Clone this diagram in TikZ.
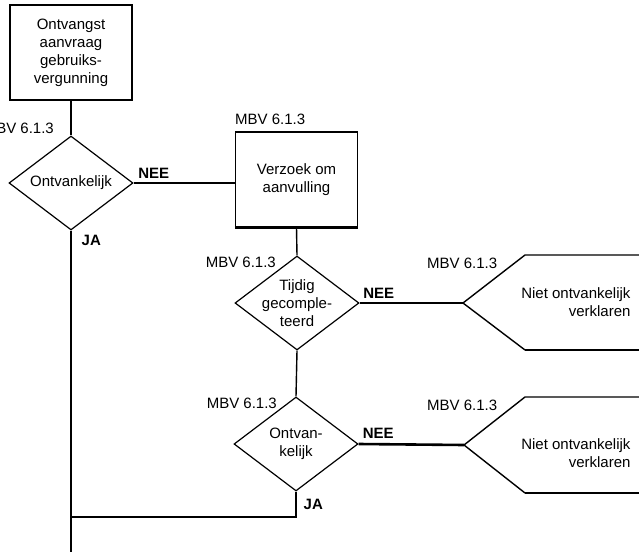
\documentclass[tikz,border=0pt]{standalone}
\usepackage{fontspec}
\setmainfont{Liberation Sans}
\usetikzlibrary{shapes.geometric,calc}
\tikzset{
  stap/.style       = {draw, line width=1.5pt, minimum width=122pt, minimum height=95pt,
                       inner sep=2pt, align=center},
  keuze/.style      = {draw, diamond, line width=1.2pt, minimum width=124pt,
                       minimum height=94pt, inner sep=0pt},
  lijn/.style       = {line width=1.4pt},
  zwaar/.style      = {line width=2.6pt},
  every node/.style = {font=\fontsize{15}{18}\selectfont},
  lbl/.style        = {inner sep=1pt, font=\fontsize{15}{18}\selectfont\bfseries},
  ref/.style        = {inner sep=1pt},
}
\begin{document}
\begin{tikzpicture}[x=1pt,y=1pt]
  \useasboundingbox (0,0) rectangle (639,-556);
  \clip (0,0) rectangle (639,-556);
  % left column: start and first check
  \node[stap] (aanvraag) at (71,-52.5) {Ontvangst\\aanvraag\\gebruiks-\\vergunning};
  \node[keuze] (ontv1) at (71,-183) {};
  \node (ontv1-t) at (ontv1) {Ontvankelijk};
  \node[ref, anchor=east] (ontv1-r) at (55,-128) {MBV 6.1.3};
  \draw[lijn] (aanvraag.south) -- (ontv1.north);
  % request for completion
  \node[stap] (verzoek) at (296.5,-179.5) {Verzoek om\\aanvulling};
  \draw[zwaar] (verzoek.south west) -- (verzoek.south east);
  \node[ref, anchor=west] (verzoek-r) at (234,-119) {MBV 6.1.3};
  \draw[lijn] (ontv1.east) -- (ontv1.east -| verzoek.west) node[pos=0, anchor=south west, lbl, xshift=3pt, yshift=3pt] {NEE};
  % completed in time?
  \node[keuze] (tijdig) at (297,-303) {};
  \node[align=center] (tijdig-t) at (tijdig) {Tijdig\\gecomple-\\teerd};
  \node[ref, anchor=east] (tijdig-r) at (277,-262) {MBV 6.1.3};
  \draw[lijn] (verzoek.south) -- (tijdig.north);
  % first rejection (runs off the right edge)
  \coordinate (niet1) at (463,-303);
  \coordinate (niet1-o) at ($(niet1)+(62,-47)$);
  \draw[lijn] (niet1) -- ++(62,48) -- ++(120,0);
  \draw[lijn] (niet1) -- (niet1-o);
  \draw[zwaar] (niet1-o) -- ++(120,0);
  \node[ref, anchor=west] (niet1-r) at (426,-263) {MBV 6.1.3};
  \node[align=right, anchor=east] (niet1-t) at (634,-302) {Niet ontvankelijk\\verklaren};
  \draw[lijn] (tijdig.east) -- (niet1) node[pos=0, anchor=south west, lbl, xshift=2pt, yshift=3pt] {NEE};
  % second check
  \node[keuze] (ontv2) at (296,-444) {};
  \node[align=center] (ontv2-t) at (ontv2) {Ontvan-\\kelijk};
  \node[ref, anchor=east] (ontv2-r) at (278,-403) {MBV 6.1.3};
  \draw[lijn] (tijdig.south) -- (ontv2.north);
  % second rejection
  \coordinate (niet2) at (464,-445);
  \coordinate (niet2-o) at ($(niet2)+(61,-48)$);
  \draw[lijn] (niet2) -- ++(61,48) -- ++(120,0);
  \draw[lijn] (niet2) -- (niet2-o);
  \draw[zwaar] (niet2-o) -- ++(120,0);
  \node[ref, anchor=west] (niet2-r) at (426,-405) {MBV 6.1.3};
  \node[align=right, anchor=east] (niet2-t) at (634,-453) {Niet ontvankelijk\\verklaren};
  \draw[zwaar] (ontv2.east) -- (niet2) node[pos=0, anchor=south west, lbl, xshift=2pt, yshift=3pt] {NEE};
  % both JA branches join the main line
  \coordinate (samen) at (71,-517);
  \coordinate (einde) at (71,-552);
  \draw[lijn] (ontv1.south) -- (einde) node[pos=0, anchor=north west, lbl, xshift=9pt, yshift=-3pt] {JA};
  \draw[lijn] (ontv2.south) |- (samen) node[pos=0, anchor=north west, lbl, xshift=6pt, yshift=-6pt] {JA};
\end{tikzpicture}
\end{document}
